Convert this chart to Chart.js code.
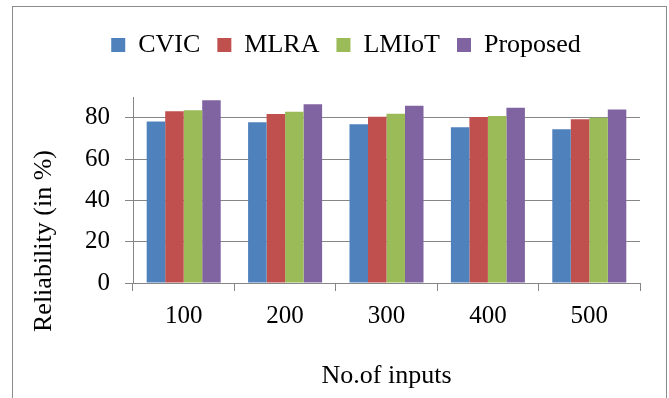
<!DOCTYPE html>
<html>
<head>
<meta charset="utf-8">
<title>Reliability chart</title>
<script src="https://cdn.jsdelivr.net/npm/chart.js@4"></script>
<style>
    html, body { margin: 0; padding: 0; background: #ffffff; }
    #wrap { position: relative; width: 669px; height: 398px; overflow: hidden; }
    #frame {
        position: absolute; left: 12px; top: 6px;
        width: 655px; height: 420px;
        border: 1px solid #8c8c8c; box-sizing: border-box;
    }
    canvas { position: absolute; left: 0; top: 0; }
</style>
</head>
<body>
<div id="wrap">
    <div id="frame"></div>
    <canvas id="reliabilityChart" width="669" height="398"></canvas>
</div>
<script>
// dados
const categories = ['100', '200', '300', '400', '500'];
const cvic = [78.1, 77.8, 76.8, 75.4, 74.4];
const mlra = [83.1, 81.8, 80.5, 80.3, 79.2];
const lmiot = [83.6, 82.9, 81.9, 80.8, 80.0];
const proposed = [88.4, 86.5, 85.8, 84.8, 83.9];
const yTicks = [0, 20, 40, 60, 80];

const serif = 'Liberation Serif';
const axisGray = '#868686';

// legenda: espaco extra ate a area do grafico e deslocamento horizontal
const legendSpacing = {
    id: 'legendSpacing',
    beforeInit(chart) {
        const originalFit = chart.legend.fit;
        chart.legend.fit = function fit() {
            originalFit.bind(chart.legend)();
            this.height = 82;
            this.lineWidths[0] -= 52;
        };
    }
};

// titulo do eixo Y desenhado na mesma posicao do original
const yTitle = {
    id: 'yTitle',
    afterDraw(chart) {
        const ctx = chart.ctx;
        ctx.save();
        ctx.translate(44.5, 241);
        ctx.rotate(-Math.PI / 2);
        ctx.font = '26px "' + serif + '"';
        ctx.fillStyle = '#000000';
        ctx.textAlign = 'center';
        ctx.textBaseline = 'middle';
        ctx.fillText('Reliability (in %)', 0, 0);
        ctx.restore();
    }
};

const ctx = document.getElementById('reliabilityChart');
new Chart(ctx, {
    type: 'bar',
    data: {
        labels: categories,
        datasets: [
            { label: 'CVIC', data: cvic, backgroundColor: '#4F81BD' },
            { label: 'MLRA', data: mlra, backgroundColor: '#C0504D' },
            { label: 'LMIoT', data: lmiot, backgroundColor: '#9BBB59' },
            { label: 'Proposed', data: proposed, backgroundColor: '#8064A2' }
        ]
    },
    options: {
        responsive: false,
        animation: false,
        devicePixelRatio: 1,
        layout: { padding: { top: 15, right: 29, bottom: 0, left: 0 } },
        datasets: {
            bar: { categoryPercentage: 0.73, barPercentage: 1.0, borderWidth: 0 }
        },
        plugins: {
            legend: {
                position: 'top',
                labels: {
                    boxWidth: 14,
                    boxHeight: 14,
                    padding: 17,
                    color: '#000000',
                    font: { family: serif, size: 26 }
                }
            },
            tooltip: { enabled: false }
        },
        scales: {
            x: {
                afterFit: (scale) => { scale.height = 115; },
                grid: {
                    display: true,
                    drawOnChartArea: false,
                    offset: true,
                    tickLength: 8,
                    color: axisGray
                },
                border: { color: axisGray, width: 1 },
                ticks: {
                    color: '#000000',
                    padding: 10,
                    font: { family: serif, size: 25 }
                },
                title: {
                    display: true,
                    text: 'No.of inputs',
                    color: '#000000',
                    padding: { top: 0, bottom: 6 },
                    font: { family: serif, size: 26 }
                }
            },
            y: {
                min: 0,
                max: 90,
                afterFit: (scale) => { scale.width = 133; },
                afterBuildTicks: (scale) => {
                    scale.ticks = yTicks.map(v => ({ value: v }));
                },
                grid: { color: axisGray, tickLength: 8 },
                border: { color: axisGray, width: 1 },
                ticks: {
                    color: '#000000',
                    padding: 15,
                    font: { family: serif, size: 25 }
                }
            }
        }
    },
    plugins: [legendSpacing, yTitle]
});
</script>
</body>
</html>
